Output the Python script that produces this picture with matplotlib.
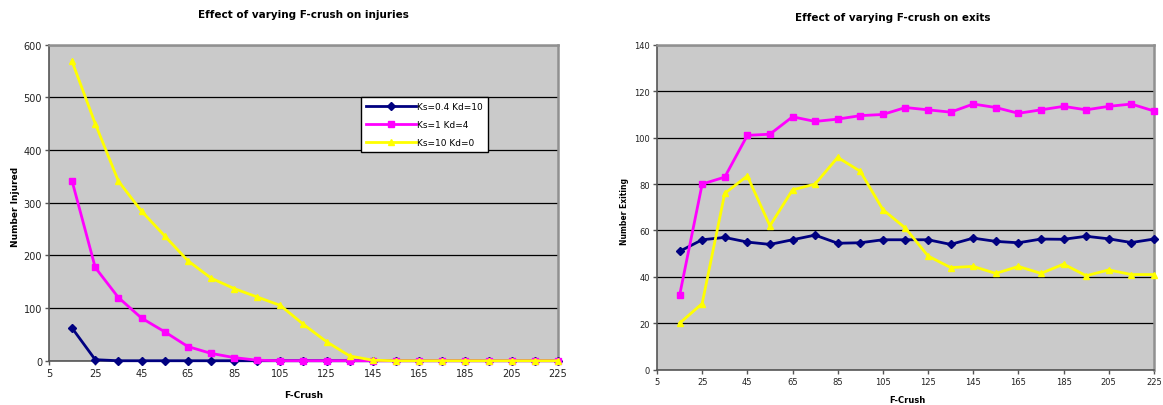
import matplotlib
matplotlib.use('Agg')
import matplotlib.pyplot as plt

# F-crush values (x axis)
f_crush = [15, 25, 35, 45, 55, 65, 75, 85, 95, 105, 115, 125, 135, 145,
           155, 165, 175, 185, 195, 205, 215, 225]

series_names = ['Ks=0.4 Kd=10', 'Ks=1 Kd=4', 'Ks=10 Kd=0']

# injuries
inj_ks04 = [62, 2, 0, 0, 0, 0, 0, 0, 0, 0, 0, 0, 0, 0, 0, 0, 0, 0, 0, 0, 0, 0]
inj_ks1 = [341, 177, 120, 81, 55, 27, 14, 6, 1, 0, 0, 0, 0, 0, 0, 0, 0, 0, 0, 0, 0, 0]
inj_ks10 = [568, 450, 341, 284, 237, 190, 157, 137, 121, 105, 69, 36, 9, 1,
            0, 0, 0, 0, 0, 0, 0, 0]

# exits
ex_ks04 = [51, 56, 57, 55, 54, 56, 58, 54.5, 54.7, 56, 56, 56, 54, 56.7,
           55.3, 54.7, 56.3, 56.2, 57.5, 56.4, 54.8, 56.3]
ex_ks1 = [32, 80, 83, 101, 101.5, 109, 107, 108, 109.5, 110, 113, 112, 111,
          114.5, 113, 110.5, 112, 113.5, 112, 113.5, 114.5, 111.5]
ex_ks10 = [20, 28.5, 76, 83.5, 62, 77.5, 80, 91.5, 85.5, 69, 61, 49, 44, 44.5,
           41.5, 44.5, 41.5, 45.5, 40.5, 43, 41, 41]

colors = ['#000080', '#FF00FF', '#FFFF00']
markers = ['D', 's', '^']
msizes = [4, 4.5, 5]

xticks = list(range(5, 226, 20))


def style_axes(ax, ymax, ystep, fs):
    ax.set_facecolor('#CACACA')
    ax.set_xlim(5, 225)
    ax.set_ylim(0, ymax)
    ax.set_xticks(xticks)
    ax.set_yticks(range(0, ymax + 1, ystep))
    ax.yaxis.grid(True, color='black', linewidth=0.9)
    ax.set_axisbelow(True)
    ax.tick_params(axis='both', labelsize=fs, direction='out', length=3,
                   width=1, color='#555555', pad=2, labelcolor='#222222')
    for side in ('top', 'right'):
        ax.spines[side].set_color('#909090')
        ax.spines[side].set_linewidth(1.8)
    for side in ('left', 'bottom'):
        ax.spines[side].set_color('#555555')
        ax.spines[side].set_linewidth(1.2)


fig = plt.figure(figsize=(11.63, 4.06), dpi=100)

# left: injuries
ax1 = fig.add_axes([0.0421, 0.109, 0.4377, 0.7786])
for ys, c, m, ms, lab in zip([inj_ks04, inj_ks1, inj_ks10], colors, markers, msizes, series_names):
    ax1.plot(f_crush, ys, color=c, marker=m, markersize=ms, linewidth=2, label=lab,
             clip_on=False, zorder=3)
style_axes(ax1, 600, 100, 7)
leg = ax1.legend(loc='upper left', bbox_to_anchor=(0.604, 0.85), fontsize=6.5,
                 frameon=True, fancybox=False, edgecolor='black', framealpha=1,
                 handlelength=5.5, borderpad=0.6, labelspacing=1.0, handletextpad=0.1)
leg.get_frame().set_linewidth(1)
fig.text(0.261, 0.962, 'Effect of varying F-crush on injuries', ha='center', va='center',
         fontsize=7.5, fontweight='bold')
fig.text(0.261, 0.027, 'F-Crush', ha='center', va='center', fontsize=6.5, fontweight='bold')
fig.text(0.013, 0.49, 'Number Injured', ha='center', va='center', rotation=90,
         fontsize=6.5, fontweight='bold')

# right: exits
ax2 = fig.add_axes([0.5649, 0.087, 0.4273, 0.80])
for ys, c, m, ms, lab in zip([ex_ks04, ex_ks1, ex_ks10], colors, markers, msizes, series_names):
    ax2.plot(f_crush, ys, color=c, marker=m, markersize=ms, linewidth=2, label=lab,
             clip_on=False, zorder=3)
style_axes(ax2, 140, 20, 6)
fig.text(0.768, 0.955, 'Effect of varying F-crush on exits', ha='center', va='center',
         fontsize=7.5, fontweight='bold')
fig.text(0.78, 0.013, 'F-Crush', ha='center', va='center', fontsize=6, fontweight='bold')
fig.text(0.537, 0.48, 'Number Exiting', ha='center', va='center', rotation=90,
         fontsize=5.5, fontweight='bold')

fig.savefig('out.png', dpi=100, facecolor='white')
